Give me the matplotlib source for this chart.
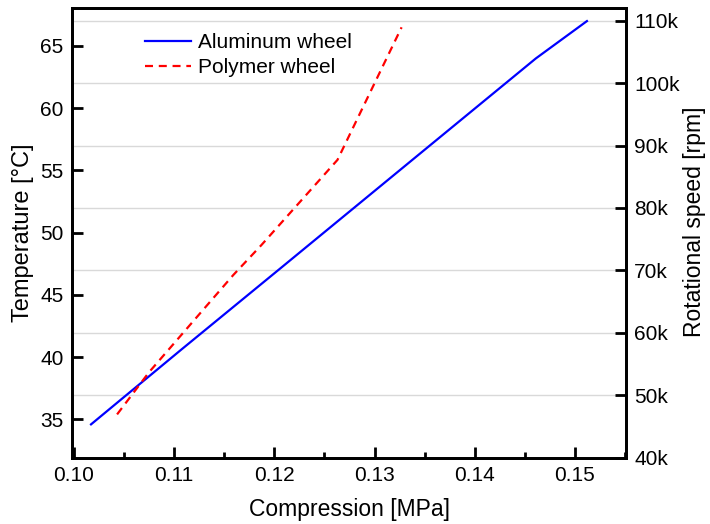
import numpy as np
import matplotlib.pyplot as plt
from matplotlib.ticker import MultipleLocator, FuncFormatter

plt.rcParams['font.family'] = ['Liberation Sans', 'DejaVu Sans']

# aluminum wheel
al_x = [0.1017, 0.1107, 0.1207, 0.1340, 0.1461, 0.1512]
al_t = [34.6, 40.6, 47.2, 56.0, 64.0, 67.0]
# polymer wheel
po_x = [0.1043, 0.1075, 0.1159, 0.1187, 0.1263, 0.1327]
po_t = [35.4, 38.8, 46.6, 49.0, 55.85, 66.5]

speed_ticks = [40000, 50000, 60000, 70000, 80000, 90000, 100000, 110000]

fig = plt.figure(figsize=(7.1, 5.24), dpi=100)
ax = fig.add_axes([0.1014, 0.126, 0.7803, 0.8587])
ax2 = ax.twinx()

ax.plot(al_x, al_t, color='#0000ff', lw=1.6, label='Aluminum wheel', zorder=3)
ax.plot(po_x, po_t, color='#ff0000', lw=1.6, ls=(0, (3.6, 2.6)), label='Polymer wheel', zorder=3)

ax.set_xlim(0.0998, 0.1551)
ax.set_ylim(31.9, 68.05)
ax.xaxis.set_major_locator(MultipleLocator(0.01))
ax.xaxis.set_minor_locator(MultipleLocator(0.005))
ax.xaxis.set_major_formatter(FuncFormatter(lambda v, p: f"{v:.2f}"))
ax.yaxis.set_major_locator(MultipleLocator(5))

ax2.set_ylim(40000, 112000)
ax2.set_yticks(speed_ticks)
ax2.yaxis.set_major_formatter(FuncFormatter(lambda v, p: f"{v/1000:.0f}k"))
ax2.grid(True, axis='y', color='#d9d9d9', lw=1.0)
ax2.set_zorder(0)
ax.set_zorder(1)
ax.patch.set_visible(False)

for a in (ax, ax2):
    for s in a.spines.values():
        s.set_linewidth(2)
ax.tick_params(axis='both', which='major', direction='in', length=8, width=2, labelsize=15, pad=6)
ax.tick_params(axis='x', which='minor', direction='in', length=4, width=2)
ax.tick_params(axis='y', which='minor', left=False)
ax2.tick_params(axis='y', direction='in', length=8, width=2, labelsize=15, pad=6)

ax.set_xlabel('Compression [MPa]', fontsize=16.5, labelpad=9)
ax.set_ylabel('Temperature [°C]', fontsize=17)
ax.yaxis.set_label_coords(-0.068, 0.5)
ax2.set_ylabel('Rotational speed [rpm]', fontsize=16.5)
ax2.yaxis.set_label_coords(1.103, 0.524)

ax.legend(loc='upper left', bbox_to_anchor=(0.0985, 0.986), frameon=False, fontsize=15,
          handlelength=2.2, handletextpad=0.35, labelspacing=0.3)

fig.savefig('out.png', dpi=100)
